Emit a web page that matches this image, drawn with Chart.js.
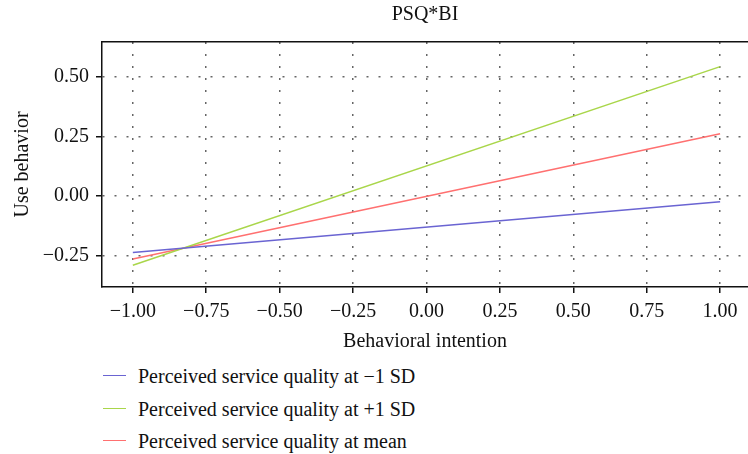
<!DOCTYPE html>
<html>
<head>
<meta charset="utf-8">
<script src="https://cdn.jsdelivr.net/npm/chart.js@4"></script>
<style>
  html, body { margin: 0; padding: 0; background: #fff; }
  #wrap { position: relative; width: 748px; height: 454px; overflow: hidden; font-family: "Liberation Serif", serif; }
  #wrap canvas { position: absolute; left: 0; top: 0; }
  .leg { position: absolute; left: 103px; height: 22px; font-size: 20px; color: #111; white-space: nowrap; }
  .leg i { position: absolute; left: 0; top: 10px; width: 23px; height: 0; border-top: 1.5px solid; }
  .leg span { position: absolute; left: 35px; top: 0; line-height: 22px; }
</style>
</head>
<body>
<div id="wrap">
  <canvas id="chart" width="748" height="360"></canvas>
  <div id="legend"></div>
</div>
<script>
// Simple slopes: Use behavior vs Behavioral intention at three levels of PSQ
const xTicks = [-1.00, -0.75, -0.50, -0.25, 0.00, 0.25, 0.50, 0.75, 1.00];
const yTicks = [-0.25, 0.00, 0.25, 0.50];

const xEnds = [-1, 1];
const lowSD = [-0.236, -0.023];
const highSD = [-0.289, 0.542];
const meanPSQ = [-0.263, 0.261];

const seriesNames = [
  'Perceived service quality at \u22121 SD',
  'Perceived service quality at +1 SD',
  'Perceived service quality at mean',
];
const seriesColors = ['#6a64d2', '#a9d64a', '#ff7070'];
const seriesValues = [lowSD, highSD, meanPSQ];

const FONT = { family: '"Liberation Serif", serif', size: 20 };
const fmt = (v) => v.toFixed(2).replace('-', '\u2212');

// title centred over the plot area, like the original
const plotTitle = {
  id: 'plotTitle',
  afterDraw(chart) {
    const { ctx, chartArea } = chart;
    ctx.save();
    ctx.font = '20px "Liberation Serif", serif';
    ctx.fillStyle = '#111';
    ctx.textAlign = 'center';
    ctx.textBaseline = 'middle';
    ctx.fillText('PSQ*BI', (chartArea.left + chartArea.right) / 2, 15);
    ctx.restore();
  },
};

const datasets = seriesValues.map((vals, i) => ({
  label: seriesNames[i],
  data: vals.map((y, k) => ({ x: xEnds[k], y })),
  borderColor: seriesColors[i],
  backgroundColor: seriesColors[i],
  borderWidth: 1.5,
  pointRadius: 0,
  fill: false,
}));

new Chart(document.getElementById('chart'), {
  type: 'line',
  data: { datasets },
  plugins: [plotTitle],
  options: {
    responsive: false,
    animation: false,
    layout: { padding: { top: 42, left: 0, right: 0, bottom: 0 } },
    plugins: { legend: { display: false }, tooltip: { enabled: false } },
    scales: {
      x: {
        type: 'linear',
        min: -1.105,
        max: 1.095,
        afterBuildTicks: (s) => { s.ticks = xTicks.map((v) => ({ value: v })); },
        afterFit: (s) => { s.height = 73; },
        ticks: { callback: fmt, font: FONT, color: '#111', padding: 7, maxRotation: 0 },
        grid: { color: '#666', lineWidth: 1.5, tickColor: '#111', tickLength: 6, tickWidth: 1.5 },
        border: { display: true, color: '#111', width: 1.5, dash: [2, 10] },
        title: { display: true, text: 'Behavioral intention', font: FONT, color: '#111', padding: { top: 0, bottom: 6 } },
      },
      x2: {
        type: 'linear',
        position: 'top',
        min: -1.105,
        max: 1.095,
        afterFit: (s) => { s.height = 0; },
        ticks: { display: false },
        grid: { display: false },
        border: { display: true, color: '#111', width: 1.5 },
      },
      y: {
        min: -0.38,
        max: 0.645,
        afterBuildTicks: (s) => { s.ticks = yTicks.map((v) => ({ value: v })); },
        afterFit: (s) => { s.width = 102; },
        ticks: { callback: fmt, font: FONT, color: '#111', padding: 7 },
        grid: { color: '#666', lineWidth: 1.5, tickColor: '#111', tickLength: 6, tickWidth: 1.5 },
        border: { display: true, color: '#111', width: 1.5, dash: [2, 10] },
        title: { display: true, text: 'Use behavior', font: FONT, color: '#111', padding: { top: 11, bottom: 0 } },
      },
    },
  },
});

// vertical legend below the plot
const legendRows = [376, 409, 441];
const legendEl = document.getElementById('legend');
seriesNames.forEach((name, i) => {
  const row = document.createElement('div');
  row.className = 'leg';
  row.style.top = (legendRows[i] - 11) + 'px';
  row.innerHTML = '<i style="border-color:' + seriesColors[i] + '"></i><span>' + name + '</span>';
  legendEl.appendChild(row);
});
</script>
</body>
</html>
